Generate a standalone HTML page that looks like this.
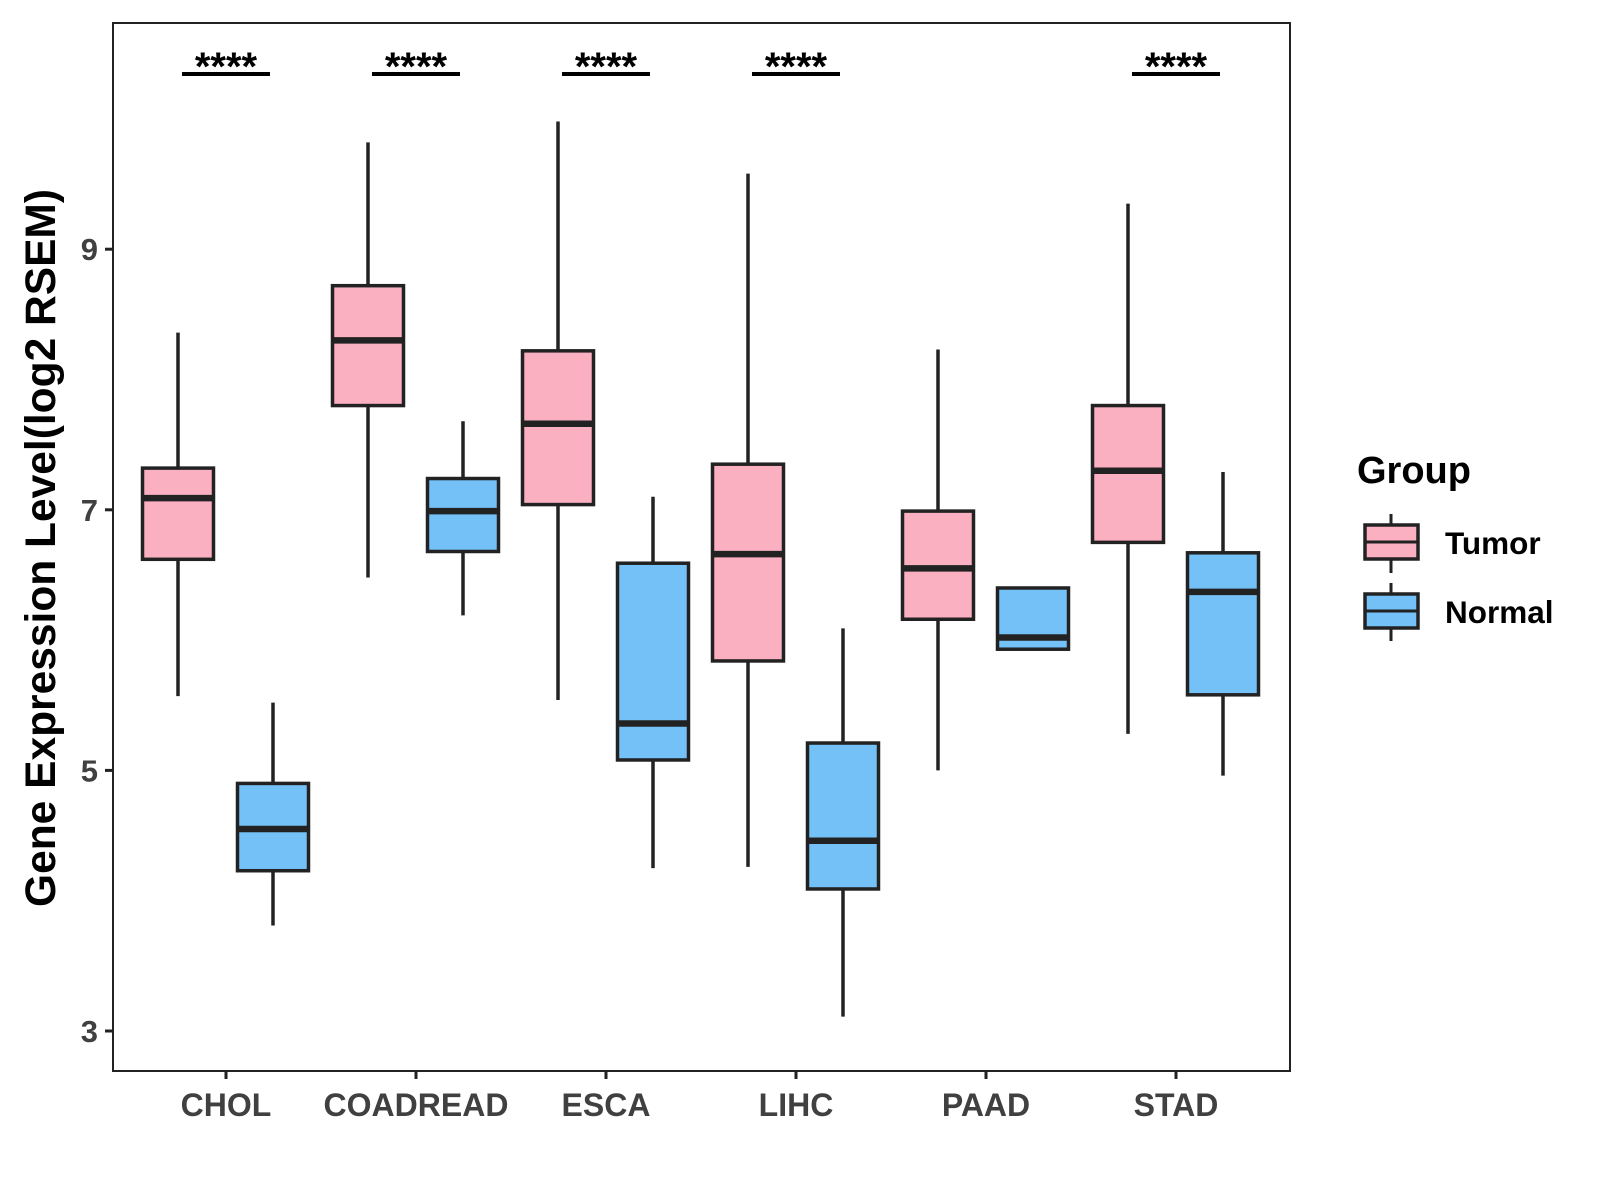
<!DOCTYPE html>
<html><head><meta charset="utf-8"><style>
body{margin:0;background:#fff}
svg{display:block;font-family:"Liberation Sans",Arial,sans-serif;font-weight:bold}
</style></head><body>
<svg id="chart" width="1600" height="1200" xmlns="http://www.w3.org/2000/svg">
<rect x="113" y="23" width="1177" height="1048" fill="#fff" stroke="#222" stroke-width="2"/>
<g id="marks"></g>
<text transform="translate(55,548) rotate(-90)" text-anchor="middle" font-size="42.5" fill="#000">Gene Expression Level(log2 RSEM)</text>
<text x="1357" y="483" font-size="38" fill="#000">Group</text>
<g>
<line x1="1391" y1="514" x2="1391" y2="573" stroke="#222" stroke-width="3"/>
<rect x="1365" y="525" width="53" height="34" fill="#FAB0C1" stroke="#222" stroke-width="3.5"/>
<line x1="1365" y1="542" x2="1418" y2="542" stroke="#222" stroke-width="3"/>
<text x="1445" y="554" font-size="31.5" fill="#000">Tumor</text></g>
<g>
<line x1="1391" y1="583" x2="1391" y2="641" stroke="#222" stroke-width="3"/>
<rect x="1365" y="594" width="53" height="34" fill="#74C1F8" stroke="#222" stroke-width="3.5"/>
<line x1="1365" y1="611" x2="1418" y2="611" stroke="#222" stroke-width="3"/>
<text x="1445" y="623" font-size="31.5" fill="#000">Normal</text></g>
</svg>
<script>
const categories=["CHOL","COADREAD","ESCA","LIHC","PAAD","STAD"];
const tumorStats=[[5.57,6.62,7.09,7.32,8.36],[6.48,7.80,8.30,8.72,9.82],[5.54,7.04,7.66,8.22,9.98],[4.26,5.84,6.66,7.35,9.58],[5.00,6.16,6.55,6.99,8.23],[5.28,6.75,7.30,7.80,9.35]];
const normalStats=[[3.81,4.23,4.55,4.90,5.52],[6.19,6.68,6.99,7.24,7.68],[4.25,5.08,5.36,6.59,7.10],[3.11,4.09,4.46,5.21,6.09],[5.93,5.93,6.02,6.40,6.40],[4.96,5.58,6.37,6.67,7.29]];
const signif=["****","****","****","****","","****"];
const yTicks=[3,5,7,9];
const NS="http://www.w3.org/2000/svg";
const g=document.getElementById('marks');
function y(v){return 1031-(v-3)*130.3;}
function xc(i){return 226+i*190;}
function mk(tag,attrs,parent){const e=document.createElementNS(NS,tag);for(const k in attrs)e.setAttribute(k,attrs[k]);(parent||g).appendChild(e);return e;}
yTicks.forEach(t=>{
  const l=mk('line',{x1:105,x2:113,y1:y(t),y2:y(t),stroke:'#222','stroke-width':3});
  
  
  const tx=mk('text',{x:98,y:y(t)+11,'text-anchor':'end','font-size':31,fill:'#404040'});
  tx.textContent=t;
  
  
});
categories.forEach((c,i)=>{
  const l=mk('line',{x1:xc(i),x2:xc(i),y1:1071,y2:1079,stroke:'#222','stroke-width':3});
  
  
  const tx=mk('text',{x:xc(i),y:1116,'text-anchor':'middle','font-size':32,fill:'#404040'});
  tx.textContent=c;
  
  
  [[tumorStats[i],-48,'#FAB0C1','tumor'],[normalStats[i],47,'#74C1F8','normal']].forEach(([s,off,col,nm])=>{
    const cx=xc(i)+off,w=71;
    const grp=mk('g',{});
    
    
    mk('line',{x1:cx,x2:cx,y1:y(s[0]),y2:y(s[4]),stroke:'#222','stroke-width':3.5},grp);
    mk('rect',{x:cx-w/2,y:y(s[3]),width:w,height:y(s[1])-y(s[3]),fill:col,stroke:'#222','stroke-width':3.5},grp);
    mk('line',{x1:cx-w/2,x2:cx+w/2,y1:y(s[2]),y2:y(s[2]),stroke:'#222','stroke-width':6.5},grp);
  });
  if(signif[i]){
    const b=mk('line',{x1:xc(i)-44,x2:xc(i)+44,y1:74,y2:74,stroke:'#000','stroke-width':4});
    
    
    const st=mk('text',{x:xc(i),y:80,'text-anchor':'middle','font-size':40,fill:'#000'});
    st.textContent=signif[i];
    
    
  }
});
</script>
</body></html>
